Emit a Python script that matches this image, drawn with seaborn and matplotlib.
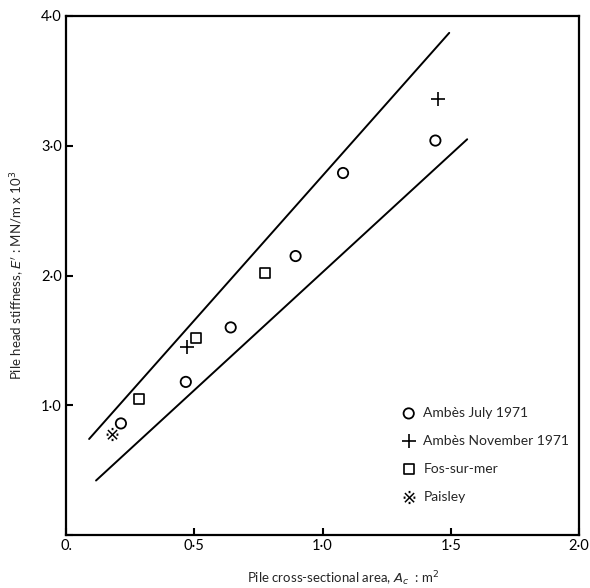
from matplotlib import pyplot as plt
import matplotlib.ticker as mtick
import pandas as pd
import seaborn as sns

july_x = [0.214, 0.467, 0.642, 0.895, 1.08, 1.44]
july_y = [0.86, 1.18, 1.60, 2.15, 2.79, 3.04]
nov_x = [0.47, 1.45]
nov_y = [1.45, 3.36]
fos_x = [0.285, 0.506, 0.775]
fos_y = [1.05, 1.52, 2.02]
paisley_x = [0.18]
paisley_y = [0.78]

# bounding lines
upper_x = [0.09, 1.494]
upper_y = [0.74, 3.87]
lower_x = [0.117, 1.564]
lower_y = [0.42, 3.05]

x_ticks = [0, 0.5, 1.0, 1.5, 2.0]
y_ticks = [0, 1.0, 2.0, 3.0, 4.0]

sns.set_style("ticks")
plt.rcParams['font.family'] = ['Lato', 'DejaVu Sans']

fig = plt.figure(figsize=(5.9, 5.88), dpi=100)
ax = fig.add_axes([0.1119, 0.0901, 0.8695, 0.8827])

sns.lineplot(x=upper_x, y=upper_y, color="black", lw=1.4, ax=ax)
sns.lineplot(x=lower_x, y=lower_y, color="black", lw=1.4, ax=ax)

sns.scatterplot(x=july_x, y=july_y, marker="o", s=55, facecolor="none",
                edgecolor="black", linewidth=1.3, ax=ax, label="Ambès July 1971")
sns.scatterplot(x=nov_x, y=nov_y, marker="+", s=90, color="black",
                linewidth=1.2, ax=ax, label="Ambès November 1971")
sns.scatterplot(x=fos_x, y=fos_y, marker="s", s=50, facecolor="none",
                edgecolor="black", linewidth=1.2, ax=ax, label="Fos-sur-mer")
sns.scatterplot(x=paisley_x, y=paisley_y, marker="$※$", s=90, color="black",
                linewidth=0, ax=ax, label="Paisley")

ax.set_xlim(0, 2.0)
ax.set_ylim(0, 4.0)
ax.set_xticks(x_ticks)
ax.set_yticks(y_ticks)
fmt = lambda v, pos: "0." if v == 0 else f"{v:.1f}".replace(".", "·")
ax.xaxis.set_major_formatter(mtick.FuncFormatter(fmt))
ax.yaxis.set_major_formatter(mtick.FuncFormatter(lambda v, pos: "" if v == 0 else fmt(v, pos)))
ax.tick_params(direction="in", length=5, width=1.5, labelsize=10.5, pad=3, colors="black")
for s in ax.spines.values():
    s.set_linewidth(1.6)
    s.set_color("black")

ax.set_xlabel("Pile cross-sectional area, $A_c$  : m$^2$", fontsize=9.5)
ax.set_ylabel("Pile head stiffness, $E'$ : MN/m x 10$^3$", fontsize=9.5, labelpad=10)
ax.xaxis.set_label_coords(0.54, -0.066)

ax.legend(loc="lower right", bbox_to_anchor=(1.0, 0.043), borderaxespad=0.3,
          frameon=False, fontsize=10, handletextpad=0.45, labelspacing=1.15,
          handlelength=1.2)

plt.savefig("out.png", dpi=100)
